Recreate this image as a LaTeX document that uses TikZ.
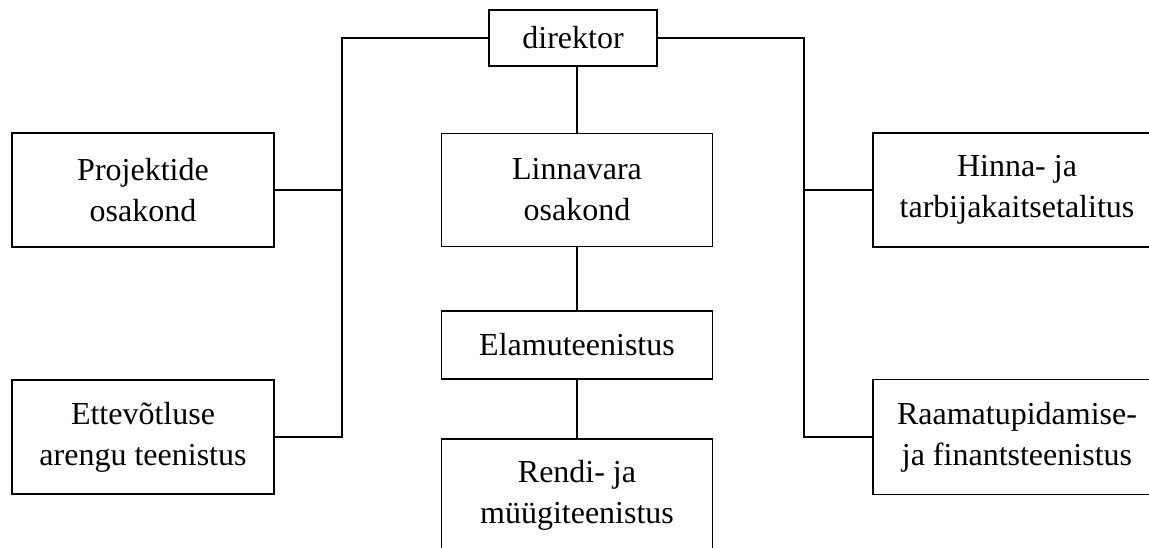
\documentclass[tikz,border=0pt]{standalone}
\usepackage{fontspec}
\setmainfont{Liberation Serif}
\usetikzlibrary{positioning}
\tikzset{
	unit/.style={
		rectangle,
		draw=black,
		line width=1.6pt,
		fill=white,
		align=center,
		inner sep=0pt,
		font=\fontsize{32}{41}\selectfont
	},
	wide/.style={
		unit,
		minimum width=262pt,
		minimum height=114pt
	},
	mid/.style={
		unit,
		minimum width=271pt,
		minimum height=113pt
	},
	link/.style={
		draw=black,
		line width=1.6pt
	},
}

\begin{document}
\begin{tikzpicture}[x=1pt,y=-1pt]
			\useasboundingbox (0,0) rectangle (1149,548);
			\clip (0,0) rectangle (1149,548);
			\coordinate (busL) at (342,437);
			\coordinate (busR) at (804,437);
			\node[unit,minimum width=168pt,minimum height=56pt] (dir) at (573,38) {direktor};
			\node[wide] (proj) at (143,190) {Projektide\\osakond};
			\node[wide] (ette) at (143,437) {Ettev\~otluse\\arengu teenistus};
			\node[mid] (linn) at (577,190) {Linnavara\\osakond};
			\node[mid,minimum height=68pt] (elam) at (577,345) {Elamuteenistus};
			\node[mid,minimum height=112pt] (rend) at (577,495) {Rendi- ja\\m\"u\"ugiteenistus};
			\node[wide,minimum width=288pt] (hinn) at (1017,190) {Hinna- ja\\tarbijakaitsetalitus};
			\node[wide,minimum width=288pt,minimum height=115pt] (raam) at (1017,437) {Raamatupidamise-\\ja finantsteenistus};
			% vertical buses
			\draw[link] (dir.west) -| (busL) -- (ette.east);
			\draw[link] (dir.east) -| (busR) -- (raam.west);
			\draw[link] (proj.east) -- (proj.east -| busL);
			\draw[link] (hinn.west) -- (hinn.west -| busR);
			% middle column
			\draw[link] (dir.south -| linn.north) -- (linn.north);
			\draw[link] (linn) -- (elam);
			\draw[link] (elam) -- (rend);
\end{tikzpicture}
\end{document}
